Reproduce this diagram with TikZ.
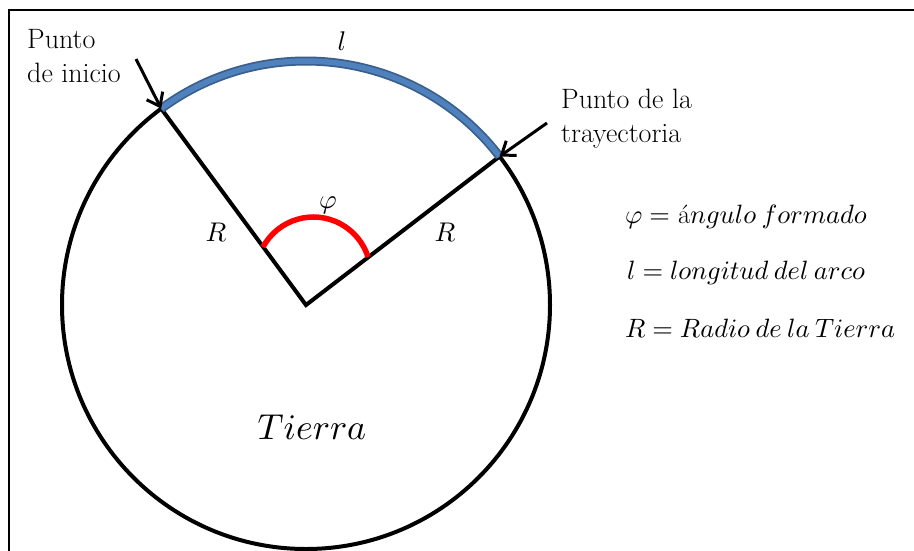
\documentclass[tikz,border=0pt]{standalone}
\usetikzlibrary{arrows.meta}
\DeclareFontShape{OML}{cmm}{m}{it}{<->cmmi10}{}
\DeclareFontShape{OT1}{cmr}{m}{n}{<->cmr10}{}
\definecolor{arcblue}{HTML}{4F81BD}
\definecolor{arcedge}{HTML}{3A5F8C}
\definecolor{angred}{HTML}{FF0000}
\begin{document}
\begin{tikzpicture}[x=1pt,y=-1pt,
  lbl/.style={inner sep=0pt, font=\fontsize{28}{34}\selectfont},
  mlbl/.style={inner sep=0pt, font=\fontsize{27}{34}\selectfont},
  leg/.style={inner sep=0pt, font=\fontsize{26.5}{34}\selectfont},
  bigl/.style={inner sep=0pt, font=\fontsize{36}{40}\selectfont},
  earth/.style={line width=4pt},
  pointer/.style={line width=3pt, -{Straight Barb[length=12pt,width=18pt]}},
  frame/.style={line width=2pt}]
\useasboundingbox (0,0) rectangle (914,550);
\fill[white] (0,0) rectangle (914,550);
\draw[frame] (915,10) -- (9,10) -- (9,552);
\coordinate (O) at (306,305);
\coordinate (S) at ([shift={(-126.4:244)}]O);
\coordinate (E) at ([shift={(-37.5:244)}]O);
\coordinate (C2) at (313.4,274.3);
\coordinate (a1) at (136,59);
\coordinate (a2) at (547,123);
% Earth
\draw[earth] (O) circle[radius=244];
\draw[earth] (S) -- (O) -- (E);
% arc length l
\draw[arcedge, line width=9pt] (S) arc[start angle=-126.4, end angle=-37.5, radius=244];
\draw[arcblue, line width=5.5pt] (S) arc[start angle=-126.4, end angle=-37.5, radius=244];
% angle
\draw[angred, line width=5.5pt] ([shift={(-151.6:57.3)}]C2) arc[start angle=-151.6, end angle=-17.6, radius=57.3];
% pointers
\draw[pointer] (a1) -- (S);
\draw[pointer] (a2) -- (E);
% labels
\node[lbl, anchor=base west, align=left] (start) at (27,82) {Punto\\de inicio};
\node[lbl, anchor=base west, align=left] (traj) at (561,142) {Punto de la\\trayectoria};
\node[mlbl, anchor=base] (l) at (342,50) {$l$};
\node[mlbl, anchor=base] (R1) at (216,241) {$R$};
\node[mlbl, anchor=base] (R2) at (445,241) {$R$};
\node[mlbl] (phi) at (328,205) {$\varphi$};
\node[bigl, anchor=base] (tierra) at (312,439) {$Tierra$};
\node[leg, anchor=base west] (leg1) at (625,223) {$\varphi =$ á$ngulo\:formado$};
\node[leg, anchor=base west] (leg2) at (627,279) {$l = longitud\:del\:arco$};
\node[leg, anchor=base west] (leg3) at (625,337) {$R = Radio\:de\:la\:Tierra$};
\end{tikzpicture}
\end{document}
